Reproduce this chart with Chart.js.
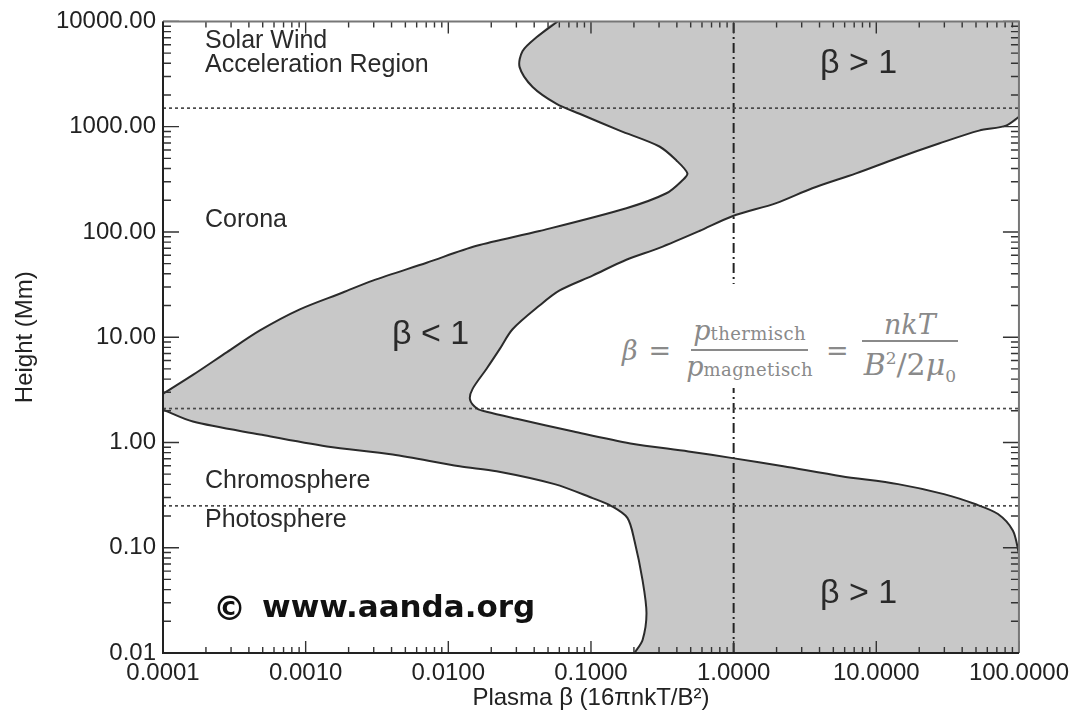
<!DOCTYPE html>
<html>
<head>
<meta charset="utf-8">
<script src="https://cdn.jsdelivr.net/npm/chart.js"></script>
<style>
html, body { margin: 0; padding: 0; background: #fff; }
#wrap { position: relative; width: 1075px; height: 716px; overflow: hidden; }
#c { position: absolute; left: 0; top: 0; }
#formula {
  position: absolute; left: 612px; top: 284px; width: 372px; height: 104px; box-sizing: border-box;
  padding-top: 28px;
  background: #fff; display: flex; align-items: center;
  font-family: 'DejaVu Serif', 'Liberation Serif', serif; color: #8a8a8a; font-size: 27px;
}
#formula .it { font-style: italic; }
#formula .eq { margin: 0 13px 0 11px; }
#formula .frac { display: inline-flex; flex-direction: column; align-items: center; }
#formula .num { border-bottom: 2px solid #8a8a8a; padding: 0 2px 0; line-height: 30px; }
#formula .den { padding: 1px 2px 0; line-height: 30px; }
#formula .sub { font-size: 18px; letter-spacing: 0.4px; }
#formula sup, #formula sub { font-size: 17px; }
</style>
</head>
<body>
<div id="wrap">
  <canvas id="c" width="1075" height="716"></canvas>
  <div id="formula">
    <span class="it" style="margin-left:10px">β</span>
    <span class="eq">=</span>
    <span class="frac">
      <span class="num"><span class="it">p</span><span class="sub">thermisch</span></span>
      <span class="den"><span class="it">p</span><span class="sub">magnetisch</span></span>
    </span>
    <span class="eq">=</span>
    <span class="frac">
      <span class="num" style="padding:0 22px 0"><span class="it">nkT</span></span>
      <span class="den" style="font-size:30px"><span class="it">B</span><sup>2</sup>/2<span class="it">μ</span><sub>0</sub></span>
    </span>
  </div>
</div>
<script>
// ---- axis ranges and tick labels ----
const xMin = 0.0001, xMax = 100;
const yMin = 0.01, yMax = 10000;
const xTickValues = [0.0001, 0.001, 0.01, 0.1, 1, 10, 100];
const yTickValues = [0.01, 0.1, 1, 10, 100, 1000, 10000];

// ---- boundary curves of the shaded (plasma beta) band ----
// upper branch, left boundary: from the left axis near 2.9 Mm up to the top
const upperLeftBeta   = [0.0001, 0.000162, 0.000281, 0.000478, 0.00091, 0.00182, 0.00295, 0.00705, 0.0158, 0.0436, 0.177, 0.338, 0.438, 0.474, 0.397, 0.302, 0.159, 0.0832, 0.0574, 0.039, 0.0316, 0.0331, 0.0415, 0.0584];
const upperLeftHeight = [2.9, 4.38, 7.22, 11.6, 18.4, 26.6, 34.5, 51, 73.8, 102, 168, 233, 310, 360, 478, 648, 917, 1327, 1648, 2385, 3680, 5210, 7060, 10000];
// upper branch, right boundary: from the pinch up to the right edge
const upperRightBeta   = [0.0142, 0.0148, 0.0185, 0.0229, 0.0282, 0.0436, 0.0603, 0.1026, 0.177, 0.302, 0.575, 0.98, 1.99, 3.56, 7.22, 13.8, 27.5, 52.5, 81.1, 100];
const upperRightHeight = [2.55, 3.23, 4.99, 7.7, 11.9, 20, 27.8, 38.5, 54.4, 70.6, 102, 141, 188, 260, 360, 499, 691, 917, 1022, 1243];
// lower branch, right boundary: from the pinch down to the right edge
const lowerRightBeta   = [0.0142, 0.016, 0.0185, 0.0301, 0.0755, 0.189, 0.482, 1.01, 2.23, 5.68, 14.2, 29.8, 49.2, 71.3, 90.8, 100];
const lowerRightHeight = [2.55, 2.09, 1.96, 1.68, 1.27, 0.98, 0.822, 0.706, 0.594, 0.478, 0.402, 0.323, 0.26, 0.209, 0.145, 0.0878];
// lower branch, left boundary: from the left axis near 2 Mm down to the bottom
const lowerLeftBeta   = [0.0001, 0.000162, 0.000478, 0.00141, 0.00407, 0.012, 0.0218, 0.0556, 0.1026, 0.139, 0.18, 0.202, 0.23, 0.245, 0.23, 0.202];
const lowerLeftHeight = [2.05, 1.58, 1.19, 0.917, 0.77, 0.594, 0.533, 0.402, 0.296, 0.249, 0.192, 0.116, 0.0489, 0.0238, 0.0133, 0.01];

// ---- reference lines ----
const layerHeights = [1500, 2.1, 0.25];   // dotted horizontal boundaries (Mm)
const betaUnity = 1;                       // dash-dot vertical line

// ---- text annotations ----
const regionLabels = [
  { text: 'Solar Wind', x: 205, y: 48 },
  { text: 'Acceleration Region', x: 205, y: 72 },
  { text: 'Corona', x: 205, y: 227 },
  { text: 'Chromosphere', x: 205, y: 488 },
  { text: 'Photosphere', x: 205, y: 527 }
];
const betaLabels = [
  { text: 'β < 1', x: 392, y: 344 },
  { text: 'β > 1', x: 820, y: 73 },
  { text: 'β > 1', x: 820, y: 603 }
];
const copyrightSign = '©';
const watermark = 'www.aanda.org';

const pts = (bs, hs) => bs.map((b, i) => ({ x: b, y: hs[i] }));

const leftUpperPts = pts(upperLeftBeta, upperLeftHeight);
const rightPts = pts(upperRightBeta, upperRightHeight).reverse()
  .concat(pts(lowerRightBeta, lowerRightHeight).slice(1));
const leftLowerPts = pts(lowerLeftBeta, lowerLeftHeight);

// closed outline of the shaded region
const regionPts = [].concat(
  leftUpperPts,
  [{ x: xMax, y: yMax }],
  rightPts,
  [{ x: xMax, y: yMin }],
  leftLowerPts.slice().reverse()
);

const TENSION = 0.3;
const curveStyle = { showLine: true, pointRadius: 0, borderColor: '#2b2b2b', borderWidth: 2, fill: false, tension: TENSION, order: 1 };

const datasets = [
  { data: regionPts, showLine: true, pointRadius: 0, borderColor: 'rgba(0,0,0,0)', borderWidth: 0,
    backgroundColor: '#c8c8c8', fill: 'shape', tension: TENSION, order: 9 },
  ...layerHeights.map(h => ({ data: [{ x: xMin, y: h }, { x: xMax, y: h }], showLine: true, pointRadius: 0,
    borderColor: '#4a4a4a', borderWidth: 1.7, borderDash: [3, 3], fill: false, order: 3 })),
  { data: [{ x: betaUnity, y: yMin }, { x: betaUnity, y: yMax }], showLine: true, pointRadius: 0,
    borderColor: '#222', borderWidth: 2, borderDash: [10, 4, 2, 4], fill: false, order: 3 },
  Object.assign({ data: leftUpperPts }, curveStyle),
  Object.assign({ data: rightPts }, curveStyle),
  Object.assign({ data: leftLowerPts }, curveStyle)
];

const decor = {
  id: 'decor',
  afterDraw(chart) {
    const { ctx, chartArea: a, scales: { x, y } } = chart;
    ctx.save();
    // inward ticks on all four sides
    ctx.strokeStyle = '#333';
    ctx.lineWidth = 1.4;
    ctx.beginPath();
    for (let e = -4; e <= 2; e++) {
      for (let m = 1; m <= 9; m++) {
        const v = m * Math.pow(10, e);
        if (v > xMax * 1.0001) break;
        const p = x.getPixelForValue(v);
        const len = m === 1 ? 12 : 6;
        ctx.moveTo(p, a.bottom); ctx.lineTo(p, a.bottom - len);
        ctx.moveTo(p, a.top); ctx.lineTo(p, a.top + len);
      }
    }
    for (let e = -2; e <= 4; e++) {
      for (let m = 1; m <= 9; m++) {
        const v = m * Math.pow(10, e);
        if (v > yMax * 1.0001) break;
        const p = y.getPixelForValue(v);
        const len = m === 1 ? 16 : 8;
        ctx.moveTo(a.left, p); ctx.lineTo(a.left + len, p);
        ctx.moveTo(a.right, p); ctx.lineTo(a.right - len, p);
      }
    }
    ctx.stroke();
    // frame
    ctx.lineWidth = 2;
    ctx.strokeStyle = '#777';
    ctx.beginPath();
    ctx.moveTo(a.left, a.top); ctx.lineTo(a.right, a.top); ctx.lineTo(a.right, a.bottom);
    ctx.stroke();
    ctx.strokeStyle = '#222';
    ctx.beginPath();
    ctx.moveTo(a.left, a.top); ctx.lineTo(a.left, a.bottom); ctx.lineTo(a.right, a.bottom);
    ctx.stroke();
    // annotations
    ctx.fillStyle = '#2a2a2a';
    ctx.textAlign = 'left';
    ctx.textBaseline = 'alphabetic';
    ctx.font = '25px "Liberation Sans", Arial, sans-serif';
    regionLabels.forEach(l => ctx.fillText(l.text, l.x, l.y));
    ctx.font = '34px "Liberation Sans", Arial, sans-serif';
    betaLabels.forEach(l => ctx.fillText(l.text, l.x, l.y));
    ctx.fillStyle = '#111';
    ctx.font = 'bold 33px "DejaVu Sans", sans-serif';
    ctx.fillText(copyrightSign, 213, 620);
    ctx.font = 'bold 31px "DejaVu Sans", sans-serif';
    ctx.fillText(watermark, 262, 617);
    ctx.restore();
  }
};

const tickFont = { family: '"Liberation Sans", Arial, sans-serif', size: 24 };
const titleFont = { family: '"Liberation Sans", Arial, sans-serif', size: 24 };

new Chart(document.getElementById('c'), {
  type: 'scatter',
  data: { datasets },
  options: {
    responsive: false,
    animation: false,
    events: [],
    layout: { padding: { left: 0, right: 55, top: 17, bottom: 0 } },
    plugins: { legend: { display: false }, tooltip: { enabled: false } },
    scales: {
      x: {
        type: 'logarithmic', min: xMin, max: xMax,
        grid: { display: false, drawTicks: false },
        border: { display: false },
        afterBuildTicks: s => { s.ticks = xTickValues.map(v => ({ value: v })); },
        afterFit: s => { s.height = 63; },
        ticks: { autoSkip: false, maxRotation: 0, padding: 6, color: '#222', font: tickFont,
                 callback: v => Number(v).toFixed(4) },
        title: { display: true, text: 'Plasma β (16πnkT/B²)', color: '#222', font: titleFont, padding: { top: 0, bottom: 3 } }
      },
      y: {
        type: 'logarithmic', min: yMin, max: yMax,
        grid: { display: false, drawTicks: false },
        border: { display: false },
        afterBuildTicks: s => { s.ticks = yTickValues.map(v => ({ value: v })); },
        afterFit: s => { s.width = 163; },
        ticks: { autoSkip: false, padding: 7, color: '#222', font: tickFont,
                 callback: v => Number(v).toFixed(2) },
        title: { display: true, text: 'Height (Mm)', color: '#222', font: titleFont, padding: { top: 11, bottom: 0 } }
      }
    }
  },
  plugins: [decor]
});
</script>
</body>
</html>
